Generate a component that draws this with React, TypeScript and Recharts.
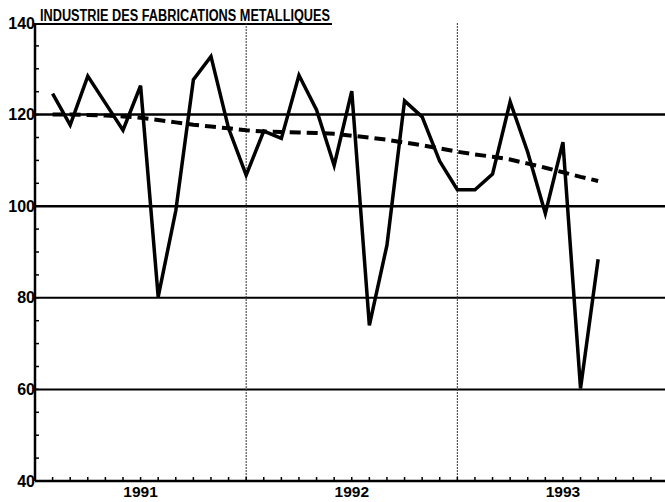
import React from 'react';
import { LineChart, Line, XAxis, YAxis, ReferenceLine } from 'recharts';

// months counted from Jan 1991 = 0
const months = [1, 2, 3, 4, 5, 6, 7, 8, 9, 10, 11, 12, 13, 14, 15, 16, 17, 18, 19, 20, 21, 22, 23, 24, 25, 26, 27, 28, 29, 30, 31, 32];
const indexValues = [124.6, 117.7, 128.4, 122.5, 116.6, 126.3, 80.2, 99, 127.6, 132.7, 117, 106.8, 116.4, 114.8, 128.6, 121, 108.9, 125.1, 74.0, 91.5, 123.0, 119.5, 109.8, 103.6, 103.6, 107, 122.8, 111.8, 98.4, 114.0, 60.2, 88.4];
const trendValues = [120.0, 120.0, 119.9, 119.8, 119.6, 119.3, 118.8, 118.3, 117.8, 117.4, 117.0, 116.6, 116.3, 116.2, 116.1, 116.0, 115.8, 115.4, 115.0, 114.5, 113.9, 113.3, 112.6, 111.9, 111.3, 110.8, 110.2, 109.3, 108.4, 107.4, 106.4, 105.5];

const yearLabels = ['1991', '1992', '1993'];
const yearTicks = [6, 18, 30];
const yearBreaks = [12, 24];
const yLabels = [40, 60, 80, 100, 120, 140];
const gridValues = [60, 80, 100, 120];
const monthTicks = Array.from({ length: 35 }, (_, i) => i + 1);
const yTicks = Array.from({ length: 21 }, (_, i) => 40 + i * 5);

const data = months.map((m, i) => ({ m, value: indexValues[i], trend: trendValues[i] }));

const FONT = '"Liberation Sans", Arial, sans-serif';

// month tick: small mark pointing up into the plot, year label under the mid-year month
function MonthTick(props: any) {
  const { x, y, payload } = props;
  const idx = yearTicks.indexOf(payload.value);
  return (
    <g>
      <line x1={x} y1={y - 5} x2={x} y2={y - 9} stroke="#000" strokeWidth={1.5} />
      {idx >= 0 && (
        <text x={x} y={y + 11} textAnchor="middle" fontFamily={FONT} fontWeight="bold" fontSize={15.5} fill="#000">
          {yearLabels[idx]}
        </text>
      )}
    </g>
  );
}

// value tick: small mark to the right of the axis every 5, label every 20
function ValueTick(props: any) {
  const { x, y, payload } = props;
  const v = payload.value;
  return (
    <g>
      {v > 40 && v < 140 && <line x1={x + 1} y1={y} x2={x + 5} y2={y} stroke="#000" strokeWidth={1.5} />}
      {yLabels.includes(v) && (
        <text x={x + 1} y={y + 5.5} textAnchor="end" fontFamily={FONT} fontWeight="bold" fontSize={16} fill="#000">
          {v}
        </text>
      )}
    </g>
  );
}

export default function App() {
  return (
    <div style={{ position: 'absolute', left: 0, top: 0, width: 665, height: 502, background: '#fff' }}>
      <svg width={665} height={30} style={{ position: 'absolute', left: 0, top: 0 }}>
        <text
          x={40}
          y={21}
          fontFamily={FONT}
          fontWeight="bold"
          fontSize={16}
          textLength={290}
          lengthAdjust="spacingAndGlyphs"
          fill="#000"
        >
          INDUSTRIE DES FABRICATIONS METALLIQUES
        </text>
        <line x1={36} y1={24} x2={332} y2={24} stroke="#000" strokeWidth={2} />
      </svg>
      <LineChart
        width={665}
        height={502}
        data={data}
        margin={{ top: 23, right: 0, bottom: 0, left: 0 }}
        style={{ position: 'absolute', left: 0, top: 0 }}
      >
        <XAxis
          dataKey="m"
          type="number"
          domain={[0, 35.8]}
          allowDataOverflow
          ticks={monthTicks}
          interval={0}
          height={21}
          tickSize={0}
          tickMargin={5}
          tickLine={false}
          axisLine={{ stroke: '#000', strokeWidth: 2.5 }}
          tick={<MonthTick />}
        />
        <YAxis
          type="number"
          domain={[40, 140]}
          ticks={yTicks}
          interval={0}
          width={35}
          tickSize={0}
          tickMargin={1}
          tickLine={false}
          axisLine={{ stroke: '#000', strokeWidth: 2.5 }}
          tick={<ValueTick />}
        />
        {gridValues.map((v) => (
          <ReferenceLine key={`h${v}`} y={v} stroke="#000" strokeWidth={v >= 100 ? 2.5 : 2} />
        ))}
        {yearBreaks.map((v) => (
          <ReferenceLine key={`v${v}`} x={v} stroke="#333" strokeWidth={1} strokeDasharray="2 1" />
        ))}
        <Line
          dataKey="trend"
          type="linear"
          stroke="#000"
          strokeWidth={4}
          strokeDasharray="11 6"
          dot={false}
          isAnimationActive={false}
        />
        <Line
          dataKey="value"
          type="linear"
          stroke="#000"
          strokeWidth={3.5}
          strokeLinejoin="miter"
          dot={false}
          isAnimationActive={false}
        />
      </LineChart>
    </div>
  );
}
